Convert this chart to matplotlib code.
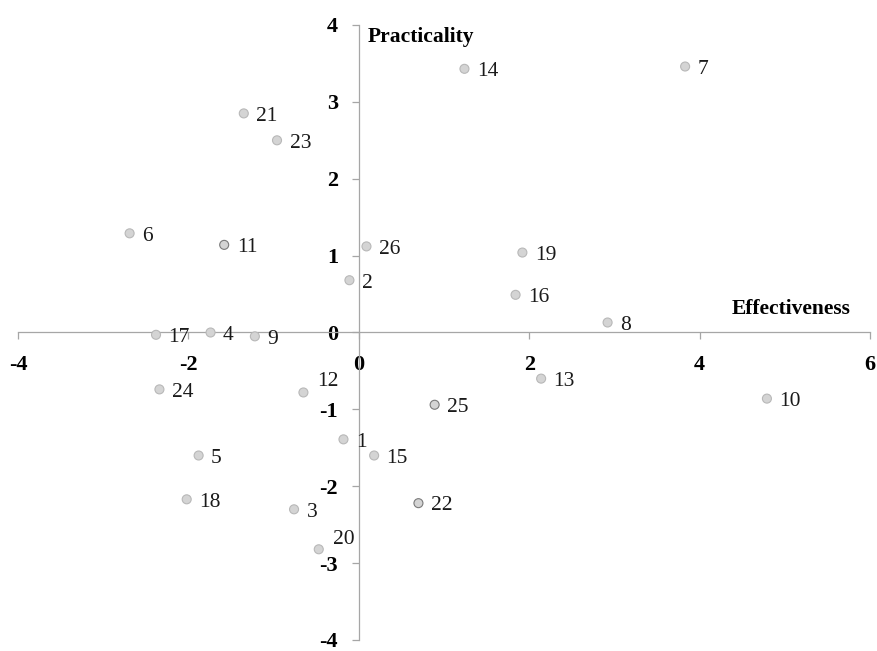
import numpy as np
import matplotlib
matplotlib.use("Agg")
import matplotlib.pyplot as plt

plt.rcParams['font.family'] = ['Liberation Serif', 'DejaVu Serif']

# point ids and their coordinates (effectiveness, practicality)
ids = ['1', '2', '3', '4', '5', '6', '7', '8', '9', '10', '11', '12', '13',
       '14', '15', '16', '17', '18', '19', '20', '21', '22', '23', '24', '25', '26']
effectiveness = [-0.18, -0.11, -0.76, -1.74, -1.88, -2.69, 3.83, 2.92, -1.22, 4.79,
                 -1.58, -0.65, 2.14, 1.24, 0.18, 1.84, -2.38, -2.02, 1.92, -0.47,
                 -1.35, 0.70, -0.96, -2.34, 0.89, 0.09]
practicality = [-1.39, 0.68, -2.30, 0.00, -1.60, 1.29, 3.46, 0.13, -0.05, -0.86,
                1.14, -0.78, -0.60, 3.43, -1.60, 0.49, -0.03, -2.17, 1.04, -2.82,
                2.85, -2.22, 2.50, -0.74, -0.94, 1.12]
darker = ['11', '22', '25']

x_ticks = [-4, -2, 0, 2, 4, 6]
y_ticks = [-4, -3, -2, -1, 0, 1, 2, 3, 4]

fig = plt.figure(figsize=(8.78, 6.51), dpi=100)
ax = fig.add_axes([0.0205, 0.0169, 0.9704, 0.9447])

edges = ['#7a7a7a' if i in darker else '#b8b8b8' for i in ids]
ax.scatter(effectiveness, practicality, s=42, facecolor='#d4d4d4',
           edgecolor=edges, linewidth=0.8, zorder=3)

# label offsets in points (most sit to the right of the marker)
offsets = {'12': (10, 8), '20': (10, 7)}
for name, xv, yv in zip(ids, effectiveness, practicality):
    dx, dy = offsets.get(name, (9, -2))
    ax.annotate(name, (xv, yv), xytext=(dx, dy), textcoords='offset points',
                ha='left', va='center', fontsize=15.5, color='#1a1a1a')

ax.set_xlim(-4, 6)
ax.set_ylim(-4, 4)

for s in ['top', 'right']:
    ax.spines[s].set_visible(False)
ax.spines['left'].set_position(('data', 0))
ax.spines['bottom'].set_position(('data', 0))
for s in ['left', 'bottom']:
    ax.spines[s].set_color('#a6a6a6')
    ax.spines[s].set_linewidth(0.9)

ax.set_xticks(x_ticks)
ax.set_yticks(y_ticks)
ax.set_xticklabels([str(v) for v in x_ticks])
ax.set_yticklabels([str(v) for v in y_ticks])
ax.tick_params(axis='x', direction='out', length=5, width=0.9, color='#a6a6a6',
               pad=11, labelsize=16)
ax.tick_params(axis='y', direction='out', length=5, width=0.9, color='#a6a6a6',
               pad=10, labelsize=16)
for lab in ax.get_xticklabels() + ax.get_yticklabels():
    lab.set_fontweight('bold')

ax.text(0.1, 3.85, 'Practicality', fontsize=15.5, fontweight='bold', ha='left', va='center')
ax.text(5.77, 0.3, 'Effectiveness', fontsize=15.5, fontweight='bold', ha='right', va='center')

fig.savefig('out.png', dpi=100)
